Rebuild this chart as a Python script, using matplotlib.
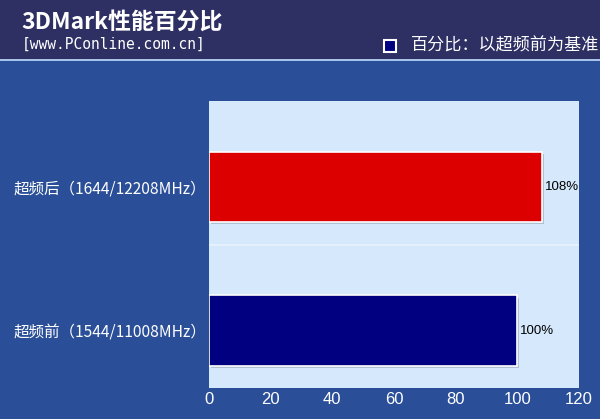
import matplotlib
matplotlib.use('Agg')
import matplotlib.pyplot as plt
import matplotlib.patheffects as pe
from matplotlib.patches import Rectangle

# data
categories = ['超频前（1544/11008MHz）', '超频后（1644/12208MHz）']
values = [100, 108]
value_labels = ['100%', '108%']
bar_colors = ['#000080', '#dd0000']
xticks = [0, 20, 40, 60, 80, 100, 120]

title = '3DMark性能百分比'
subtitle = '[www.PConline.com.cn]'
legend_text = '百分比：以超频前为基准'

cjk = ['Noto Sans CJK SC', 'DejaVu Sans']
plt.rcParams['font.family'] = cjk

fig = plt.figure(figsize=(6, 4.19), dpi=100)
fig.patch.set_facecolor('#2a4f98')

# header band
fig.patches.append(Rectangle((0, 1 - 59 / 419), 1, 59 / 419, transform=fig.transFigure,
                             facecolor='#2e3064', edgecolor='none', zorder=0))
fig.patches.append(Rectangle((0, 1 - 61 / 419), 1, 2 / 419, transform=fig.transFigure,
                             facecolor='#a9c4ea', edgecolor='none', zorder=0))

fig.text(21 / 600, 1 - 22 / 419, title, color='white', fontsize=16.5, fontweight='bold',
         va='center', ha='left', family=cjk)
fig.text(22 / 600, 1 - 44 / 419, subtitle, color='white', fontsize=10.5,
         va='center', ha='left', family='DejaVu Sans Mono')

# legend square + text
fig.patches.append(Rectangle((384 / 600, 1 - 52 / 419), 12 / 600, 12 / 419,
                             transform=fig.transFigure, facecolor='#000080',
                             edgecolor='white', linewidth=1.5, zorder=2))
fig.text(411 / 600, 1 - 46 / 419, legend_text, color='white', fontsize=12.3,
         va='center', ha='left', family=cjk)

ax = fig.add_axes([209 / 600, 1 - 388 / 419, 370 / 600, 287 / 419])
ax.set_facecolor('#d5e8fc')

pos = list(range(len(categories)))
bars = ax.barh(pos, values, height=0.49, color=bar_colors, edgecolor='white', linewidth=1.2,
               zorder=3)
for b in bars:
    b.set_path_effects([pe.SimplePatchShadow(offset=(1.5, -1.5), shadow_rgbFace='#8899aa',
                                             alpha=0.5), pe.Normal()])

for p, v, lab in zip(pos, values, value_labels):
    ax.text(v + 1, p, lab, va='center', ha='left', fontsize=9.5, color='black',
            family='Liberation Sans', zorder=4)

# separator between categories
ax.axhline(0.6, color='#e8f2fe', linewidth=1.2, zorder=1)

ax.set_xlim(0, 120)
ax.set_ylim(-0.4, 1.6)
ax.set_xticks(xticks)
ax.set_xticklabels([str(t) for t in xticks], fontsize=12, color='white',
                   family='Liberation Sans')
ax.set_yticks(pos)
ax.set_yticklabels(categories, fontsize=11.2, color='white')
ax.tick_params(length=0, pad=3)
ax.tick_params(axis='y', pad=2)
for s in ax.spines.values():
    s.set_visible(False)

fig.savefig('out.png', dpi=100, facecolor=fig.get_facecolor())
